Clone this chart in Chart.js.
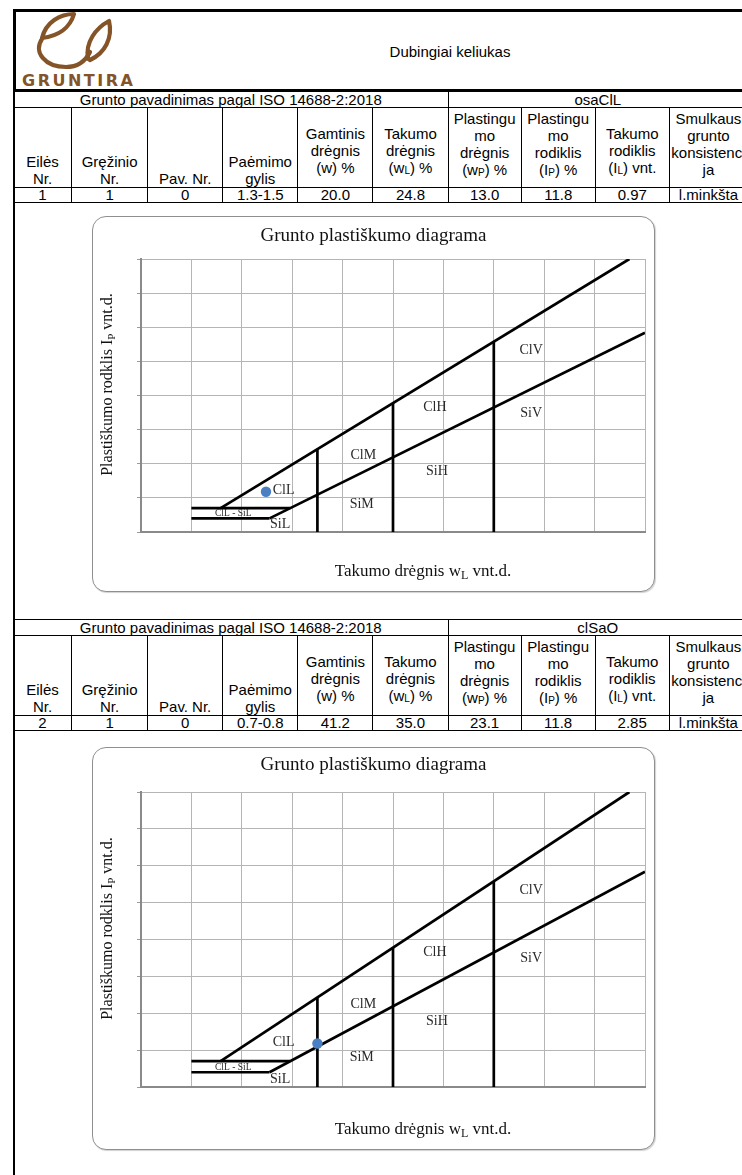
<!DOCTYPE html>
<html>
<head>
<meta charset="utf-8">
<script src="https://cdn.jsdelivr.net/npm/chart.js@4.4.1/dist/chart.umd.min.js"></script>
<style>
html,body{margin:0;padding:0;background:#fff;overflow:hidden;}
#page{position:relative;width:742px;height:1175px;overflow:hidden;font-family:"Liberation Sans",Arial,sans-serif;color:#000;}
.leftline{position:absolute;left:13px;top:9px;width:2px;height:1175px;background:#000;}
.hdr{position:absolute;left:13px;top:9px;width:770px;height:83px;box-sizing:border-box;border:3px solid #000;}
.place{position:absolute;left:300px;width:300px;top:43px;text-align:center;font-size:15px;line-height:18px;}
.logo{position:absolute;left:18px;top:8px;width:125px;height:70px;}
.logotext{position:absolute;left:22px;top:71px;font-family:"DejaVu Sans",sans-serif;font-weight:bold;font-size:16px;letter-spacing:2.5px;color:#845428;line-height:19px;}
table.t{position:absolute;left:13px;border-collapse:collapse;table-layout:fixed;font-size:15px;width:735px;}
table.t td{border:1px solid #000;padding:0;text-align:center;line-height:17px;overflow:hidden;white-space:nowrap;}
table.t tr.r1 td{line-height:15px;}
table.t tr.dr td{line-height:14px;}
table.t td.b{vertical-align:bottom;}
table.t td.m{vertical-align:middle;padding-top:5px;}
table.t td.tp{vertical-align:top;padding-top:2px;}
.sb{font-size:10px;vertical-align:-1px;line-height:0;}
.box{position:absolute;left:92px;width:563px;box-sizing:border-box;border:1.5px solid #8f8f8f;border-radius:14px;background:#fff;box-shadow:1px 1px 1px rgba(0,0,0,0.18);}
.cwrap{position:absolute;left:92px;width:563px;}
</style>
</head>
<body>
<div id="page">
  <div class="leftline"></div>
  <div class="hdr"></div>
  <svg class="logo" viewBox="0 0 125 70">
    <g fill="none" stroke="#845428" stroke-width="4.2" stroke-linecap="round" stroke-linejoin="round">
      <path d="M24,30 C28,14 42,6 56,6 C52,20 40,28 24,30"/>
      <path d="M24,31 C15,44 27,59 48,59 C61,59 68,52 72,44"/>
      <path d="M70,51 C67,34 78,20 91,13 C95,30 87,45 72,52"/>
    </g>
  </svg>
  <div class="logotext">GRUNTIRA</div>
  <div class="place">Dubingiai keliukas</div>
  <div id="tables"></div>
  <div class="box" style="top:216px;height:376px;"></div>
  <div class="cwrap" style="top:216px;height:376px;"><canvas id="c1"></canvas></div>
  <div class="box" style="top:747px;height:403px;"></div>
  <div class="cwrap" style="top:747px;height:403px;"><canvas id="c2"></canvas></div>
</div>
<script>
// ---------- table data ----------
const colWidths = [58, 76, 75, 75, 75, 75, 73, 74, 74, 78];
const sampleNo = [1, 2];
const boreholeNo = [1, 1];
const pavNo = [0, 0];
const depth = ['1.3-1.5', '0.7-0.8'];
const wNatural = ['20.0', '41.2'];
const wLiquid = ['24.8', '35.0'];
const wPlastic = ['13.0', '23.1'];
const ipIndex = ['11.8', '11.8'];
const ilIndex = ['0.97', '2.85'];
const consistency = ['l.minkšta', 'l.minkšta'];
const soilName = ['osaClL', 'clSaO'];
const tableTops = [91, 619];

// ---------- chart data (wL %, Ip %) ----------
const sampleWl = [24.8, 35.0];
const sampleIp = [11.8, 11.8];
const uLineWl = [15.8, 96.9];
const uLineIp = [7, 80];
const aLineWl = [25.5, 100];
const aLineIp = [4, 58.4];
const band7Wl = [10, 29.6];
const band7Ip = [7, 7];
const band4Wl = [10, 25.5];
const band4Ip = [4, 4];
const dividerWl = [35, 50, 70];
const dividerTopIp = [24.3, 37.8, 55.8];
const zoneNames = ['ClL', 'ClL - SiL', 'SiL', 'ClM', 'SiM', 'ClH', 'SiH', 'ClV', 'SiV'];
const zoneWl = [28.3, 18.3, 27.6, 44.1, 43.8, 58.3, 58.7, 77.4, 77.4];
const zoneIp = [12.2, 5.4, 2.2, 22.4, 8.0, 36.5, 17.7, 53.2, 34.8];
const xRange = [0, 100, 10];
const yRange = [0, 80, 10];

const chartTitle = 'Grunto plastiškumo diagrama';
const xTitleParts = [{t: 'Takumo drėgnis w'}, {t: 'L', sub: true}, {t: ' vnt.d.'}];
const yTitleParts = [{t: 'Plastiškumo rodklis I'}, {t: 'P', sub: true}, {t: ' vnt.d.'}];

// ---------- build tables ----------
function buildTable(i) {
  const cols = colWidths.map(w => `<col style="width:${w}px">`).join('');
  return `<table class="t" style="top:${tableTops[i]}px"><colgroup>${cols}</colgroup>
  <tr class="r1" style="height:16px"><td colspan="6">Grunto pavadinimas pagal ISO 14688-2:2018</td><td colspan="4">${soilName[i]}</td></tr>
  <tr style="height:80px">
    <td class="b">Eilės<br>Nr.</td>
    <td class="b">Gręžinio<br>Nr.</td>
    <td class="b">Pav. Nr.</td>
    <td class="b">Paėmimo<br>gylis</td>
    <td class="m">Gamtinis<br>drėgnis<br>(w) %</td>
    <td class="m">Takumo<br>drėgnis<br>(w<span class="sb">L</span>) %</td>
    <td class="tp">Plastingu<br>mo<br>drėgnis<br>(w<span class="sb">P</span>) %</td>
    <td class="tp">Plastingu<br>mo<br>rodiklis<br>(I<span class="sb">P</span>) %</td>
    <td class="m">Takumo<br>rodiklis<br>(I<span class="sb">L</span>) vnt.</td>
    <td class="tp">Smulkaus<br>grunto<br>konsistenci<br>ja</td>
  </tr>
  <tr class="dr" style="height:15px">
    <td>${sampleNo[i]}</td><td>${boreholeNo[i]}</td><td>${pavNo[i]}</td><td>${depth[i]}</td>
    <td>${wNatural[i]}</td><td>${wLiquid[i]}</td><td>${wPlastic[i]}</td><td>${ipIndex[i]}</td>
    <td>${ilIndex[i]}</td><td>${consistency[i]}</td>
  </tr></table>`;
}
document.getElementById('tables').innerHTML = buildTable(0) + buildTable(1);

// ---------- charts ----------
const SERIF = '"Liberation Serif", "Times New Roman", serif';

function drawRich(ctx, parts, cx, cy, size) {
  const base = size + 'px ' + SERIF;
  const subSize = Math.round(size * 0.68);
  const sub = subSize + 'px ' + SERIF;
  let w = 0;
  parts.forEach(p => { ctx.font = p.sub ? sub : base; p.w = ctx.measureText(p.t).width; w += p.w; });
  let x = cx - w / 2;
  ctx.textAlign = 'left';
  ctx.textBaseline = 'alphabetic';
  const baseY = cy + size * 0.33;
  parts.forEach(p => {
    ctx.font = p.sub ? sub : base;
    ctx.fillText(p.t, x, p.sub ? baseY + size * 0.22 : baseY);
    x += p.w;
  });
}

const textPlugin = {
  id: 'diagramTexts',
  afterDatasetsDraw(chart, args, opts) {
    const {ctx, chartArea: a} = chart;
    const xs = chart.scales.x, ys = chart.scales.y;
    ctx.save();
    ctx.fillStyle = '#2a2a2a';
    ctx.textAlign = 'center';
    ctx.textBaseline = 'middle';
    zoneNames.forEach((n, i) => {
      ctx.font = (n.indexOf('-') >= 0 ? '9.5px ' : '14px ') + SERIF;
      ctx.fillText(n, xs.getPixelForValue(zoneWl[i]), ys.getPixelForValue(zoneIp[i]));
    });
    ctx.fillStyle = '#111';
    ctx.font = '19px ' + SERIF;
    ctx.textAlign = 'center';
    ctx.textBaseline = 'middle';
    ctx.fillText(chartTitle, chart.width / 2, opts.titleY);
    drawRich(ctx, xTitleParts, (a.left + a.right) / 2 + 30, a.bottom + opts.xTitleGap, 17);
    ctx.translate(opts.yTitleX, (a.top + a.bottom) / 2 - 11);
    ctx.rotate(-Math.PI / 2);
    drawRich(ctx, yTitleParts, 0, 0, 16);
    ctx.restore();
  }
};

function seg(wl, ip) {
  return {
    data: wl.map((v, i) => ({x: v, y: ip[i]})),
    showLine: true, borderColor: '#000', borderWidth: 2.7,
    pointRadius: 0, fill: false, tension: 0, borderCapStyle: 'butt'
  };
}

function makeChart(id, idx, pad, tOpts) {
  const datasets = [
    {data: [{x: sampleWl[idx], y: sampleIp[idx]}], pointRadius: 5.2, pointBackgroundColor: '#4a7fc4',
     pointBorderColor: '#4a7fc4', pointBorderWidth: 0, showLine: false},
    seg(uLineWl, uLineIp),
    seg(aLineWl, aLineIp),
    seg(band7Wl, band7Ip),
    seg(band4Wl, band4Ip)
  ];
  dividerWl.forEach((w, i) => datasets.push(seg([w, w], [0, dividerTopIp[i]])));
  return new Chart(document.getElementById(id), {
    type: 'scatter',
    data: {datasets},
    options: {
      responsive: true, maintainAspectRatio: false, animation: false, events: [],
      layout: {padding: pad},
      plugins: {legend: {display: false}, tooltip: {enabled: false}, title: {display: false}, diagramTexts: tOpts},
      scales: {
        x: {type: 'linear', min: xRange[0], max: xRange[1],
            ticks: {display: false, stepSize: xRange[2]},
            grid: {color: '#b5b5b5', lineWidth: 1, drawTicks: false},
            border: {display: true, color: '#8a8a8a', width: 2}},
        y: {type: 'linear', min: yRange[0], max: yRange[1],
            ticks: {display: false, stepSize: yRange[2]},
            grid: {color: '#b5b5b5', lineWidth: 1, drawTicks: true, tickLength: 4, tickColor: '#9a9a9a'},
            border: {display: true, color: '#8a8a8a', width: 2}}
      }
    },
    plugins: [textPlugin]
  });
}

makeChart('c1', 0, {left: 45, right: 10, top: 43, bottom: 60}, {titleY: 20, xTitleGap: 38, yTitleX: 14.5});
makeChart('c2', 1, {left: 45, right: 10, top: 45, bottom: 63}, {titleY: 18, xTitleGap: 41, yTitleX: 14.5});
</script>
</body>
</html>
